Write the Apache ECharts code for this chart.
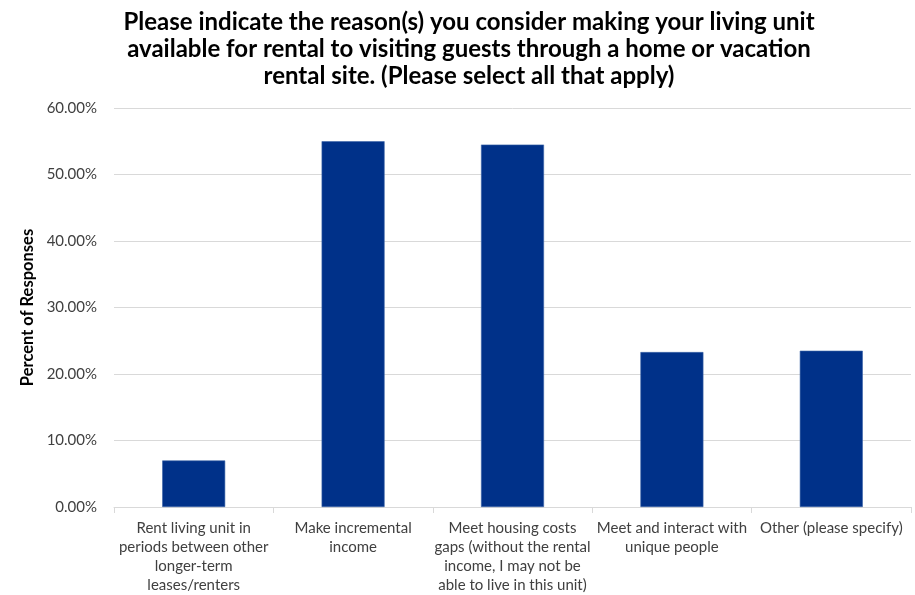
<!DOCTYPE html>
<html>
<head>
<meta charset="utf-8">
<script src="https://cdn.jsdelivr.net/npm/echarts@6/dist/echarts.min.js"></script>
<style>html,body{margin:0;padding:0;background:#fff;}#c{width:915px;height:595px;}</style>
</head>
<body>
<div id="c"></div>
<script>
const titleText = "Please indicate the reason(s) you consider making your living unit\navailable for rental to visiting guests through a home or vacation\nrental site. (Please select all that apply)";
const categories = [
  "Rent living unit in\nperiods between other\nlonger-term\nleases/renters",
  "Make incremental\nincome",
  "Meet housing costs\ngaps (without the rental\nincome, I may not be\nable to live in this unit)",
  "Meet and interact with\nunique people",
  "Other (please specify)"
];
const values = [7.0, 55.0, 54.5, 23.3, 23.5];
const yAxisName = "Percent of Responses";

const chart = echarts.init(document.getElementById('c'));
chart.setOption({
  animation: false,
  title: {
    text: titleText,
    left: 464, top: 4, textAlign: 'center',
    textStyle: {fontFamily: 'Lato', fontWeight: 'bold', fontSize: 24, lineHeight: 27, color: '#000'}
  },
  grid: {left: 114, right: 4, top: 108, bottom: 83},
  xAxis: {
    type: 'category',
    data: categories,
    axisLine: {lineStyle: {color: '#d9d9d9'}},
    axisTick: {show: true, length: 6, lineStyle: {color: '#d9d9d9'}},
    axisLabel: {interval: 0, fontFamily: 'Lato', fontSize: 15, lineHeight: 19, color: '#404040', margin: 12}
  },
  yAxis: {
    type: 'value', min: 0, max: 60, interval: 10,
    name: yAxisName, nameLocation: 'middle', nameGap: 77,
    nameTextStyle: {fontFamily: 'Lato', fontWeight: 'bold', fontSize: 16.5, color: '#000'},
    axisLine: {show: false}, axisTick: {show: false},
    splitLine: {lineStyle: {color: '#d9d9d9'}},
    axisLabel: {formatter: v => v.toFixed(2) + '%', fontFamily: 'Lato', fontSize: 15, color: '#404040', margin: 17}
  },
  series: [{
    type: 'bar', data: values, barWidth: 63,
    itemStyle: {color: '#003189', borderColor: '#3a64a8', borderWidth: 0.6}
  }]
});
</script>
</body>
</html>
